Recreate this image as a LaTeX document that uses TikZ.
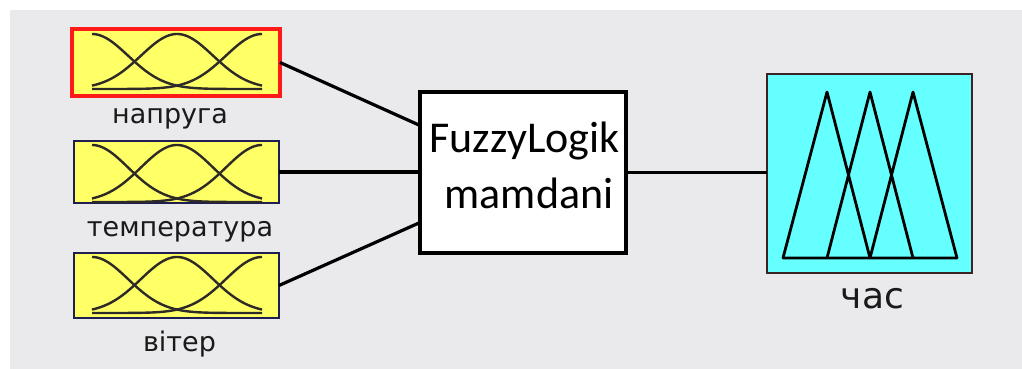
\documentclass[tikz,border=0pt]{standalone}
\usepackage{fontspec}
\newfontfamily\labfont{DejaVu Sans}
\newfontfamily\boxfont{Carlito}
\definecolor{panel}{HTML}{EAE9EC}
\definecolor{mfyellow}{HTML}{FFFF66}
\definecolor{mfcyan}{HTML}{66FFFF}
\definecolor{selred}{HTML}{FF1A1A}
\definecolor{navy}{HTML}{1E1E50}
\definecolor{darkedge}{HTML}{3C2424}
\definecolor{labtext}{HTML}{1A1A1A}
\tikzset{
  inbox/.style={draw=navy, line width=2pt, fill=mfyellow, inner sep=0pt, outer sep=0pt},
  selbox/.style={inbox, draw=selred, line width=4pt},
  sysbox/.style={draw=black, line width=3.5pt, fill=white, inner sep=0pt, outer sep=0pt},
  outbox/.style={draw=darkedge, line width=2pt, fill=mfcyan, inner sep=0pt, outer sep=0pt},
  varlabel/.style={anchor=base, text=labtext, inner sep=0pt, font=\labfont\fontsize{27}{30}\selectfont},
  boxtext/.style={anchor=base, inner sep=0pt, font=\boxfont\fontsize{44}{52}\selectfont},
  wire/.style={line width=3.2pt, black},
  mf/.style={line width=2.4pt, black!90!olive, line join=round},
  tri/.style={line width=2.8pt, black, line join=round, line cap=round}
}
\begin{document}
\begin{tikzpicture}[x=1pt, y=-1pt]
  % canvas and panel
  \fill[white] (0,0) rectangle (1022,369);
  \useasboundingbox (0,0) rectangle (1022,369);
  \fill[panel] (10,10) rectangle (1022,369);

  % input variables
  \node[selbox, minimum width=208pt, minimum height=67pt] (v1) at (176,62.5) {};
  \node[inbox, minimum width=205pt, minimum height=62pt] (v2) at (176.5,172) {};
  \node[inbox, minimum width=205pt, minimum height=65pt] (v3) at (176.5,285.5) {};

  % Gaussian membership functions inside each input box
  \foreach \t/\b in {34/89, 145/202, 257/313}{
    \foreach \c in {92,177,262}{
      \draw[mf] plot[domain=92:262, samples=90, smooth]
        (\x, {\b - (\b-\t)*exp(-0.5*((\x-\c)/36)^2)});
    }
  }

  \node[varlabel] (l1) at (170,123) {напруга};
  \node[varlabel] (l2) at (180,236) {температура};
  \node[varlabel] (l3) at (179.5,351) {вітер};

  % inference system
  \node[sysbox, minimum width=206pt, minimum height=161pt] (sys) at (523,172.5) {};
  \node[boxtext] (t1) at (524.5,152) {FuzzyLogik};
  \node[boxtext] (t2) at (529,208) {mamdani};

  % output variable
  \node[outbox, minimum width=205pt, minimum height=199pt] (out) at (869.5,173.5) {};
  \draw[tri] (783,258) -- (827,92) -- (870,258)
             (827,258) -- (870,92) -- (913,258)
             (870,258) -- (913,92) -- (957,258)
             (783,258) -- (957,258);
  \node[varlabel, font=\labfont\fontsize{36}{40}\selectfont] (l4) at (872.5,308) {час};

  % connections
  \draw[wire] (v1.east) -- ([yshift=47pt]sys.west);
  \draw[wire] (v2.east) -- (v2.east -| sys.west);
  \draw[wire] (v3.east) -- ([yshift=-50pt]sys.west);
  \draw[wire] (sys.east) -- (sys.east -| out.west);
\end{tikzpicture}
\end{document}
